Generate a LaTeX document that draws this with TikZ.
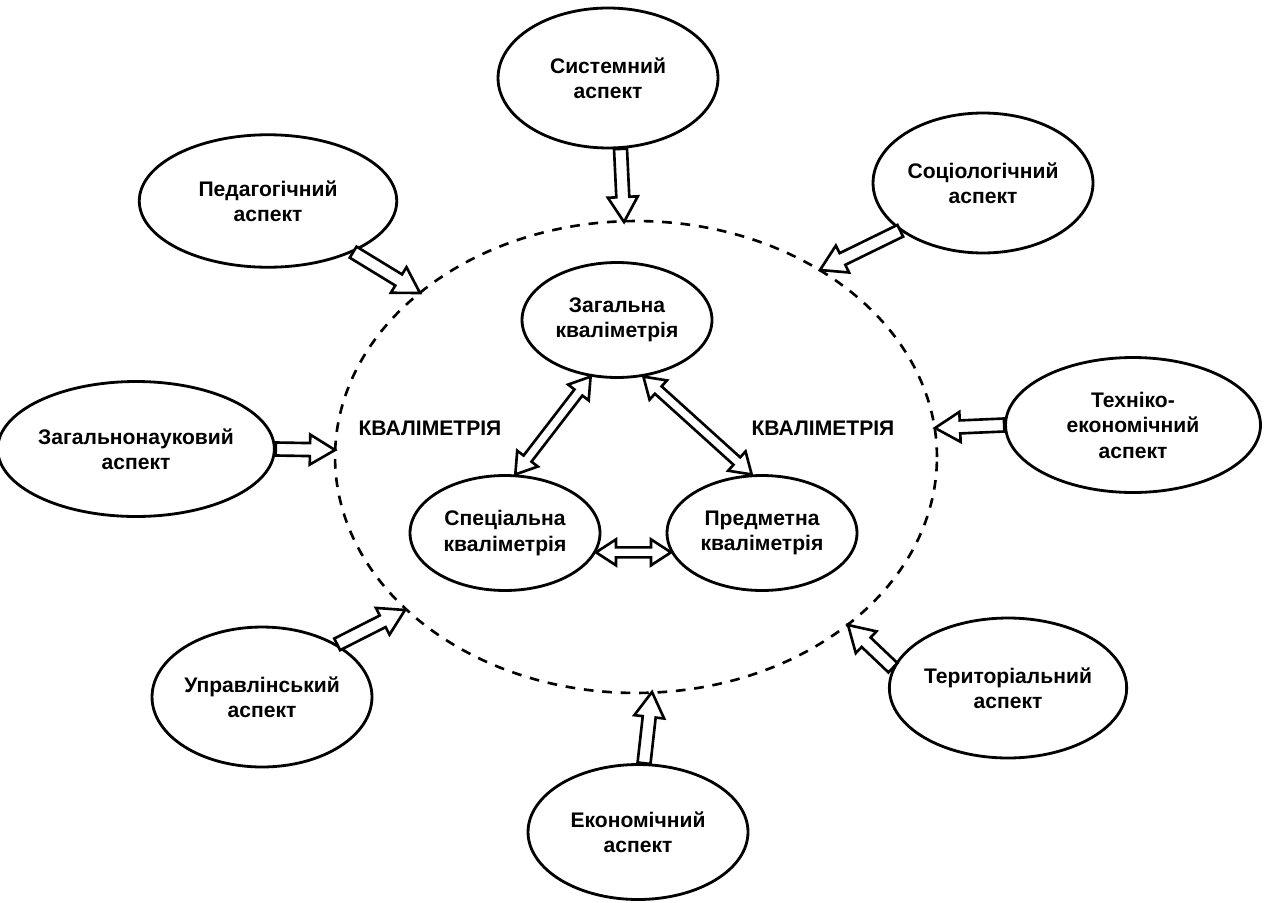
\documentclass[tikz,border=0pt]{standalone}
\usepackage{fontspec}
\setmainfont{Liberation Sans}
\usetikzlibrary{calc,shapes.geometric}

% hollow block arrow: tail, tip
\newcommand{\blockarrow}[2]{%
  \coordinate (ba-h) at ($(#2)!0.5cm!(#1)$);
  \draw[blockarr] ($(#1)!0.13cm!90:(#2)$) -- ($(ba-h)!0.13cm!90:(#2)$)
    -- ($(ba-h)!0.3cm!90:(#2)$) -- (#2) -- ($(ba-h)!0.3cm!-90:(#2)$)
    -- ($(ba-h)!0.13cm!-90:(#2)$) -- ($(#1)!0.13cm!-90:(#2)$) -- cycle;
}
% hollow double block arrow
\newcommand{\dblarrow}[2]{%
  \coordinate (da-a) at ($(#1)!0.4cm!(#2)$);
  \coordinate (da-b) at ($(#2)!0.4cm!(#1)$);
  \draw[blockarr] (#1) -- ($(da-a)!0.26cm!90:(#2)$) -- ($(da-a)!0.1cm!90:(#2)$)
    -- ($(da-b)!0.1cm!-90:(#1)$) -- ($(da-b)!0.26cm!-90:(#1)$) -- (#2)
    -- ($(da-b)!0.26cm!90:(#1)$) -- ($(da-b)!0.1cm!90:(#1)$)
    -- ($(da-a)!0.1cm!-90:(#2)$) -- ($(da-a)!0.26cm!-90:(#2)$) -- cycle;
}

\begin{document}
\begin{tikzpicture}[
    x=0.02cm, y=-0.02cm,
    font=\fontsize{12}{14.5}\selectfont\bfseries,
    aspect/.style={ellipse, draw, line width=1.6pt, align=center, inner sep=0pt,
      minimum width=4.4cm, minimum height=2.8cm},
    kval/.style={ellipse, draw, line width=1.6pt, align=center, inner sep=0pt,
      minimum width=3.8cm, minimum height=2.3cm},
    blockarr/.style={draw, line width=1.5pt, line join=miter, fill=white}
  ]
  \useasboundingbox (0,0) rectangle (1266,902);

  % dashed ellipse
  \node[ellipse, draw, dash pattern=on 5.5pt off 5pt, line width=1.5pt,
    minimum width=12.04cm, minimum height=9.44cm] (kvl) at (636,457) {};

  % outer aspects
  \node[aspect] (sys) at (608,78) {Системний\\аспект};
  \node[aspect, minimum width=5.15cm, minimum height=2.65cm] (ped) at (268,201) {Педагогічний\\аспект};
  \node[aspect] (soc) at (983,183) {Соціологічний\\аспект};
  \node[aspect, minimum width=5.1cm, minimum height=2.7cm] (zag) at (136,449) {Загальнонауковий\\аспект};
  \node[aspect, minimum width=5.1cm, minimum height=2.7cm] (tek) at (1133,425) {Техніко-\\економічний\\аспект};
  \node[aspect] (upr) at (262,697) {Управлінський\\аспект};
  \node[aspect] (ter) at (1008,688) {Територіальний\\аспект};
  \node[aspect, minimum height=2.7cm] (eko) at (638,832) {Економічний\\аспект};

  % inner kinds
  \node[kval] (zkv) at (617,320) {Загальна\\кваліметрія};
  \node[kval] (skv) at (505,533) {Спеціальна\\кваліметрія};
  \node[kval] (pkv) at (762,533) {Предметна\\кваліметрія};

  \node (lab1) at (430,428) {КВАЛІМЕТРІЯ};
  \node (lab2) at (823,428) {КВАЛІМЕТРІЯ};

  % arrow tips on the dashed ellipse
  \coordinate (t-sys) at (624,222);
  \coordinate (t-ped) at (420,293);
  \coordinate (t-soc) at (820,270);
  \coordinate (t-zag) at (335,450);
  \coordinate (t-tek) at (935,428);
  \coordinate (t-upr) at (405,610);
  \coordinate (t-ter) at (848,625);
  \coordinate (t-eko) at (652,692);

  \blockarrow{sys.-80}{t-sys}
  \blockarrow{ped.-31}{t-ped}
  \blockarrow{soc.-150}{t-soc}
  \blockarrow{zag.east}{t-zag}
  \blockarrow{tek.west}{t-tek}
  \blockarrow{upr.35}{t-upr}
  \blockarrow{ter.170}{t-ter}
  \blockarrow{eko.85}{t-eko}

  \dblarrow{zkv.-115}{skv.80}
  \dblarrow{zkv.-65}{pkv.100}
  \dblarrow{skv.-12}{pkv.-168}
\end{tikzpicture}
\end{document}
